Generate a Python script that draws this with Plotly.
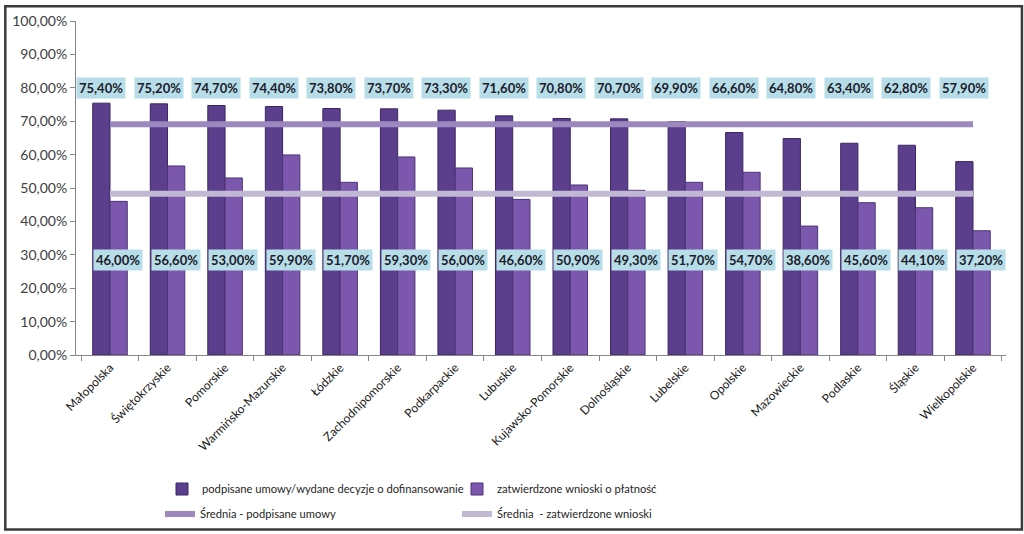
import plotly.graph_objects as go

regions = ["Małopolska", "Świętokrzyskie", "Pomorskie", "Warmińsko-Mazurskie", "Łódzkie",
           "Zachodnipomorskie", "Podkarpackie", "Lubuskie", "Kujawsko-Pomorskie", "Dolnośląskie",
           "Lubelskie", "Opolskie", "Mazowieckie", "Podlaskie", "Śląskie", "Wielkopolskie"]
umowy = [0.754, 0.752, 0.747, 0.744, 0.738, 0.737, 0.733, 0.716, 0.708, 0.707,
         0.699, 0.666, 0.648, 0.634, 0.628, 0.579]
wnioski = [0.460, 0.566, 0.530, 0.599, 0.517, 0.593, 0.560, 0.466, 0.509, 0.493,
           0.517, 0.547, 0.386, 0.456, 0.441, 0.372]
srednia_umowy = 0.691
srednia_wnioski = 0.483

names = ["podpisane umowy/wydane decyzje o dofinansowanie", "zatwierdzone wnioski o płatność",
         "Średnia - podpisane umowy", "Średnia  - zatwierdzone wnioski"]

FONT = "Lato"

fig = go.Figure()
fig.add_trace(go.Bar(x=regions, y=umowy, name=names[0],
                     marker=dict(color="#5b3e8c", line=dict(color="#3b2760", width=1)),
                     legend="legend"))
fig.add_trace(go.Bar(x=regions, y=wnioski, name=names[1],
                     marker=dict(color="#7b57ad", line=dict(color="#4e3478", width=1)),
                     legend="legend"))
fig.add_trace(go.Scatter(x=regions, y=[srednia_umowy] * len(regions), name=names[2],
                         mode="lines", line=dict(color="#9c88bf", width=6), legend="legend2"))
fig.add_trace(go.Scatter(x=regions, y=[srednia_wnioski] * len(regions), name=names[3],
                         mode="lines", line=dict(color="#c1b8d4", width=6), legend="legend2"))

annotations = []
for r, v in zip(regions, umowy):
    annotations.append(dict(x=r, y=0.798, xref="x", yref="y", text=f"{v*100:.2f}%".replace(".", ","),
                            showarrow=False, xshift=-9, bgcolor="#b7dde8", borderpad=2,
                            font=dict(family=FONT, size=13, color="#1b1b2b", weight="bold")))
for r, v in zip(regions, wnioski):
    annotations.append(dict(x=r, y=0.285, xref="x", yref="y", text=f"{v*100:.2f}%".replace(".", ","),
                            showarrow=False, xshift=8, bgcolor="#b7dde8", borderpad=2,
                            font=dict(family=FONT, size=13, color="#1b1b2b", weight="bold")))

W, H = 1024, 534
ml, mr, mt, mb = 72, 18, 16, 179
pw, ph = W - ml - mr, H - mt - mb

def px_x(p):
    return (p - ml) / pw

def px_y(p):
    return (H - mb - p) / ph

fig.update_layout(
    width=W, height=H,
    margin=dict(l=ml, r=mr, t=mt, b=mb),
    paper_bgcolor="white", plot_bgcolor="white",
    separators=", ",
    barmode="group", bargap=0.4, bargroupgap=0,
    font=dict(family=FONT, size=13, color="#404040"),
    annotations=annotations,
    legend=dict(orientation="h", xref="container", yref="container",
                x=162 / W, xanchor="left", y=1 - 489 / H, yanchor="middle",
                entrywidth=250, entrywidthmode="pixels", font=dict(family=FONT, size=11.2, color="#262626"),
                bgcolor="rgba(0,0,0,0)", traceorder="normal"),
    legend2=dict(orientation="h", xref="container", yref="container",
                 x=160 / W, xanchor="left", y=1 - 514 / H, yanchor="middle",
                 entrywidth=252, entrywidthmode="pixels", font=dict(family=FONT, size=11.2, color="#262626"),
                 bgcolor="rgba(0,0,0,0)", traceorder="normal"),
    xaxis=dict(type="category", showline=True, linecolor="#868686", linewidth=1,
               ticks="outside", ticklen=5, tickcolor="#868686", tickson="boundaries",
               tickangle=-45, showgrid=False, tickfont=dict(family=FONT, size=12, color="#1a1a1a")),
    yaxis=dict(range=[0, 1], dtick=0.1, tickformat=".2%", showline=True, linecolor="#868686",
               linewidth=1, ticks="outside", ticklen=5, tickcolor="#868686", showgrid=False,
               zeroline=False, tickfont=dict(family=FONT, size=14, color="#404040")),
    shapes=[dict(type="rect", xref="paper", yref="paper",
                 x0=px_x(1), x1=px_x(W - 2), y0=px_y(H - 2), y1=px_y(1),
                 line=dict(color="#3a3a3a", width=2.5), fillcolor="rgba(0,0,0,0)", layer="above")],
)

fig.write_html("out.html")
